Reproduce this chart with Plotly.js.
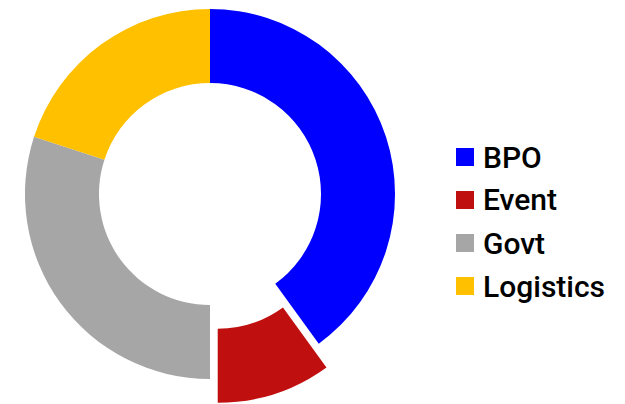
<!DOCTYPE html>
<html>
<head>
<meta charset="utf-8">
<script src="https://cdn.plot.ly/plotly-3.0.1.min.js"></script>
<style>
html,body{margin:0;padding:0;background:#fff;overflow:hidden;}
#chart{position:absolute;left:0;top:-16px;width:625px;height:420px;}
</style>
</head>
<body>
<div id="chart"></div>
<script>
const labels = ["BPO", "Event", "Govt", "Logistics"];
const values = [40, 10, 30, 20];
const colors = ["#0000FF", "#C00F0F", "#A6A6A6", "#FFC000"];
const pulls = [0, 0.135, 0, 0];

const W = 625, H = 420;
// legend layout (pixels within the plot div)
const legX = 456, legSym = 18, legTextX = 481, legY0 = 173, legStep = 43;

const shapes = [], annotations = [];
labels.forEach((lab, i) => {
  const cy = legY0 + i * legStep;
  shapes.push({
    type: "rect", xref: "paper", yref: "paper",
    x0: legX / W, x1: (legX + legSym) / W,
    y0: 1 - (cy + legSym / 2) / H, y1: 1 - (cy - legSym / 2) / H,
    fillcolor: colors[i], line: {width: 0}
  });
  annotations.push({
    xref: "paper", yref: "paper",
    x: legTextX / W, y: 1 - cy / H,
    xanchor: "left", yanchor: "middle",
    text: lab, showarrow: false,
    font: {family: "Roboto, sans-serif", size: 30, weight: 500, color: "#000000"}
  });
});

const data = [{
  type: "pie",
  labels: labels,
  values: values,
  marker: {colors: colors, line: {width: 0}},
  pull: pulls,
  hole: 0.6,
  sort: false,
  direction: "clockwise",
  rotation: 0,
  textinfo: "none",
  hoverinfo: "label+percent",
  domain: {x: [0, 0.672], y: [0, 1]}
}];

const layout = {
  width: W,
  height: H,
  margin: {l: 0, r: 0, t: 0, b: 0},
  paper_bgcolor: "#ffffff",
  showlegend: false,
  shapes: shapes,
  annotations: annotations
};

Plotly.newPlot("chart", data, layout, {displayModeBar: false, staticPlot: true});
</script>
</body>
</html>
